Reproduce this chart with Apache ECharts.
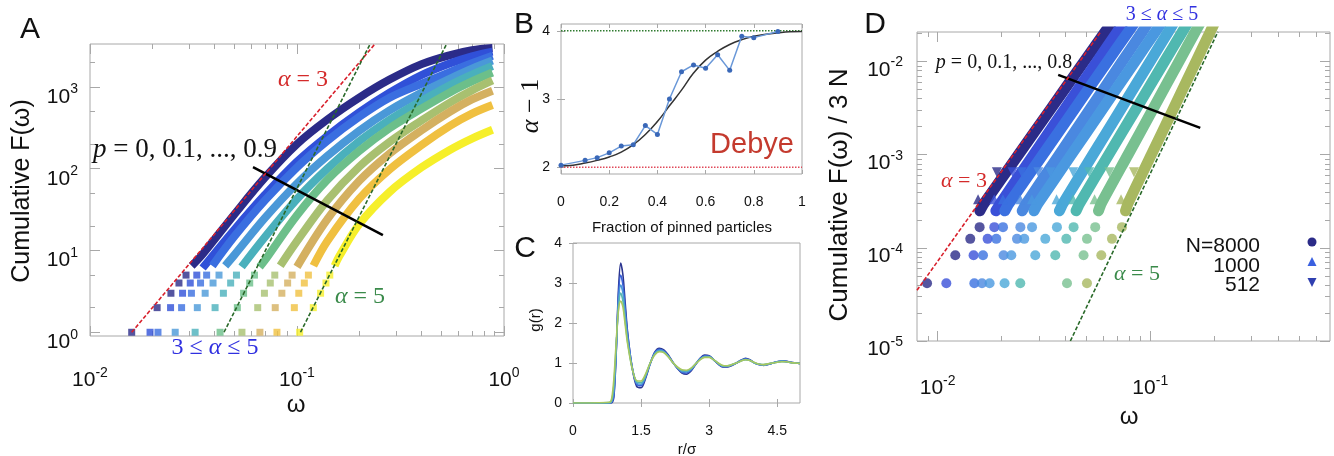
<!DOCTYPE html>
<html><head><meta charset="utf-8">
<script src="https://cdn.jsdelivr.net/npm/echarts@6/dist/echarts.min.js"></script>
<style>html,body{margin:0;padding:0;background:#fff}#c{width:1334px;height:456px}</style>
</head><body><div id="c"></div>
<script>
// ================= DATA =================
// ---- Panel A : cumulative F(w), p = 0 ... 0.9 ----
const A_P = ['0','0.1','0.2','0.3','0.4','0.5','0.6','0.7','0.8','0.9'];
const A_SQ_F = [1, 2, 3, 4, 5];
const A_SQ_W_P00 = [0.0159, 0.0211, 0.0246, 0.0269, 0.0291];
const A_SQ_W_P01 = [0.0195, 0.0245, 0.0280, 0.0305, 0.0328];
const A_SQ_W_P02 = [0.0213, 0.0277, 0.0309, 0.0342, 0.0366];
const A_SQ_W_P03 = [0.0258, 0.0330, 0.0360, 0.0393, 0.0420];
const A_SQ_W_P04 = [0.0322, 0.0402, 0.0441, 0.0478, 0.0510];
const A_SQ_W_P05 = [0.0425, 0.0515, 0.0552, 0.0591, 0.0623];
const A_SQ_W_P06 = [0.0542, 0.0646, 0.0696, 0.0743, 0.0781];
const A_SQ_W_P07 = [0.0662, 0.0785, 0.0845, 0.0901, 0.0947];
const A_SQ_W_P08 = [0.0800, 0.0971, 0.1020, 0.1085, 0.1135];
const A_SQ_W_P09 = [0.1030, 0.1199, 0.1300, 0.1380, 0.1440];
const A_BAND_P00 = [[0.031,6.5],[0.035,9],[0.05,28],[0.07,78],[0.1,200],[0.14,398],[0.2,741],[0.28,1230],[0.4,1900],[0.55,2455],[0.7,2818],[0.88,3000]];
const A_BAND_P01 = [[0.035,6.1],[0.05,18.2],[0.07,48],[0.1,122],[0.14,251],[0.2,490],[0.28,851],[0.4,1400],[0.55,1950],[0.7,2371],[0.88,2700]];
const A_BAND_P02 = [[0.039,6.5],[0.05,15],[0.07,41],[0.1,104],[0.14,219],[0.2,431],[0.28,738],[0.4,1093],[0.55,1528],[0.7,1945],[0.88,2400]];
const A_BAND_P03 = [[0.045,6.5],[0.05,8.9],[0.07,25],[0.1,66],[0.14,143],[0.2,292],[0.28,517],[0.4,851],[0.55,1266],[0.7,1672],[0.88,2100]];
const A_BAND_P04 = [[0.054,6.3],[0.07,14.6],[0.1,42.7],[0.14,100],[0.2,217],[0.28,397],[0.4,678],[0.55,1057],[0.7,1413],[0.88,1800]];
const A_BAND_P05 = [[0.066,6.3],[0.07,7.6],[0.1,27],[0.14,73],[0.2,165],[0.28,313],[0.4,544],[0.55,863],[0.7,1167],[0.88,1500]];
const A_BAND_P06 = [[0.083,6.5],[0.1,13],[0.14,41],[0.2,106],[0.28,212],[0.4,389],[0.55,647],[0.7,908],[0.88,1200]];
const A_BAND_P07 = [[0.1,6.3],[0.14,24],[0.2,71],[0.28,153],[0.4,296],[0.55,501],[0.7,703],[0.88,900]];
const A_BAND_P08 = [[0.12,6.5],[0.14,13],[0.2,43],[0.28,98],[0.4,195],[0.55,336],[0.7,471],[0.88,600]];
const A_BAND_P09 = [[0.152,6.5],[0.16,8.5],[0.2,21],[0.28,52],[0.4,104],[0.55,171],[0.7,234],[0.88,300]];
const A_FIT_A3 = [[0.0159,1],[0.2379,3350]];
const A_FIT_A5_1 = [[0.0444,1],[0.2256,3350]];
const A_FIT_A5_2 = [[0.104,1],[0.528,3350]];
const A_ARROW = [[0.0613,104.7],[0.26,15.4]];
const A_X_TICKS = [0.01, 0.1, 1];
const A_X_TICK_EXP = ['-2','-1','0'];
const A_X_MINOR = [0.02,0.03,0.04,0.05,0.06,0.07,0.08,0.09,0.2,0.3,0.4,0.5,0.6,0.7,0.8,0.9];
const A_Y_TICKS = [1, 10, 100, 1000];
const A_Y_TICK_EXP = ['0','1','2','3'];
const A_Y_MINOR = [2,5,20,50,200,500,2000];

// ---- Panel B : alpha-1 vs fraction of pinned particles ----
const B_P = [0,0.1,0.15,0.2,0.25,0.3,0.35,0.4,0.45,0.5,0.55,0.6,0.65,0.7,0.75,0.8,0.9];
const B_ALPHA = [2.03,2.10,2.14,2.21,2.31,2.33,2.61,2.48,3.00,3.40,3.50,3.45,3.65,3.42,3.92,3.90,3.99];
const B_FIT_P = [0,0.05,0.1,0.15,0.2,0.25,0.3,0.35,0.4,0.45,0.5,0.55,0.6,0.65,0.7,0.75,0.8,0.85,0.9,0.95,1];
const B_FIT_A = [2.02,2.03,2.06,2.10,2.15,2.22,2.33,2.48,2.67,2.90,3.13,3.38,3.57,3.70,3.80,3.87,3.92,3.95,3.97,3.985,3.99];
const B_DEBYE = [[0,2],[1,2]];
const B_TOP = [[0,4],[1,4]];
const B_X_TICKS = [0,0.2,0.4,0.6,0.8,1];
const B_X_LABELS = ['0','0.2','0.4','0.6','0.8','1'];
const B_Y_TICKS = [2,3,4];

// ---- Panel C : g(r) ----
const C_R = [0,0.8,0.85,0.9,0.95,1.0,1.05,1.1,1.15,1.2,1.3,1.4,1.5,1.6,1.7,1.8,1.9,2.0,2.1,2.2,2.3,2.4,2.5,2.6,2.7,2.8,2.9,3.0,3.1,3.2,3.3,3.4,3.5,3.6,3.7,3.8,3.9,4.0,4.1,4.2,4.3,4.4,4.5,4.6,4.7,4.8,4.9,5.0];
const C_G_P00 = [0,0,0,0.15,1.2,2.8,3.5,3.2,2.5,1.8,0.9,0.42,0.38,0.62,0.98,1.27,1.37,1.33,1.2,1.02,0.86,0.75,0.72,0.8,0.96,1.12,1.2,1.18,1.08,0.97,0.9,0.9,0.94,1.0,1.07,1.12,1.08,1.0,0.96,0.94,0.96,1.0,1.03,1.05,1.04,1.02,1.0,0.99];
const C_G_P02 = [0,0,0.01,0.2,1.25,2.65,3.2,2.95,2.35,1.75,0.92,0.47,0.43,0.65,0.98,1.25,1.34,1.3,1.18,1.01,0.87,0.77,0.75,0.82,0.97,1.11,1.18,1.17,1.08,0.98,0.91,0.91,0.95,1.0,1.06,1.1,1.07,1.0,0.96,0.95,0.97,1.0,1.03,1.05,1.04,1.02,1.0,0.99];
const C_G_P04 = [0,0,0.03,0.3,1.3,2.5,2.95,2.75,2.2,1.65,0.9,0.5,0.47,0.67,0.99,1.24,1.32,1.29,1.17,1.01,0.88,0.79,0.78,0.84,0.97,1.1,1.16,1.16,1.08,0.99,0.92,0.92,0.95,1.0,1.06,1.09,1.06,1.0,0.97,0.95,0.97,1.0,1.03,1.04,1.03,1.01,1.0,0.99];
const C_G_P06 = [0,0.01,0.06,0.45,1.4,2.35,2.75,2.55,2.05,1.55,0.88,0.53,0.51,0.7,1.0,1.22,1.3,1.27,1.16,1.01,0.89,0.81,0.8,0.86,0.98,1.09,1.15,1.15,1.08,0.99,0.93,0.93,0.96,1.0,1.05,1.08,1.06,1.0,0.97,0.96,0.98,1.0,1.02,1.04,1.03,1.01,1.0,0.99];
const C_G_P08 = [0,0.02,0.1,0.6,1.5,2.3,2.55,2.4,1.95,1.5,0.88,0.56,0.55,0.73,1.0,1.2,1.28,1.26,1.15,1.01,0.9,0.83,0.82,0.87,0.98,1.08,1.14,1.14,1.08,1.0,0.94,0.93,0.96,1.0,1.05,1.08,1.06,1.01,0.97,0.96,0.98,1.0,1.02,1.03,1.03,1.01,1.0,0.99];
const C_X_TICKS = [0,1.5,3,4.5];
const C_Y_TICKS = [0,1,2,3,4];

// ---- Panel D : cumulative F(w)/3N, p = 0 ... 0.8 ----
const D_ROW_F = [4.17e-5, 8.33e-5, 1.25e-4, 1.67e-4];
const D_CIRC_W_P00 = [0.00892, 0.01211, 0.01424, 0.01576];
const D_CIRC_W_P01 = [0.01099, 0.01476, 0.01718, 0.01848];
const D_CIRC_W_P02 = [0.01488, 0.01635, 0.01888, 0.0203];
const D_CIRC_W_P03 = [0.01617, 0.02043, 0.02362, 0.0245];
const D_CIRC_W_P04 = [0.01756, 0.02221, 0.02556, 0.0278];
const D_CIRC_W_P05 = [0.02065, 0.02879, 0.03209, 0.0364];
const D_CIRC_W_P06 = [0.02448, 0.03576, 0.04029, 0.0436];
const D_CIRC_W_P07 = [0.04059, 0.04857, 0.05039, 0.0551];
const D_CIRC_W_P08 = [0.05039, 0.05884, 0.06605, 0.0736];
const D_BAND_F = [2.5e-4, 3e-4, 1e-3, 3e-3, 1e-2, 0.0209, 0.03];
const D_BAND_W_P00 = [0.0158, 0.01654, 0.02398, 0.03366, 0.04881, 0.0614, 0.0686];
const D_BAND_W_P01 = [0.0188, 0.01972, 0.02825, 0.0392, 0.05618, 0.0700, 0.0776];
const D_BAND_W_P02 = [0.0207, 0.02166, 0.03123, 0.04362, 0.0629, 0.0788, 0.0878];
const D_BAND_W_P03 = [0.0250, 0.02612, 0.0373, 0.05161, 0.0737, 0.0917, 0.1017];
const D_BAND_W_P04 = [0.0284, 0.02965, 0.04252, 0.05906, 0.08474, 0.1056, 0.1177];
const D_BAND_W_P05 = [0.0374, 0.03886, 0.0537, 0.07217, 0.09975, 0.1215, 0.1338];
const D_BAND_W_P06 = [0.0448, 0.04652, 0.06373, 0.085, 0.1165, 0.1414, 0.1554];
const D_BAND_W_P07 = [0.0571, 0.05884, 0.07855, 0.1022, 0.1364, 0.1627, 0.1776];
const D_BAND_W_P08 = [0.0765, 0.0786, 0.1012, 0.1274, 0.164, 0.1914, 0.2062];
const D_UP_F = 3.33e-4;
const D_UP_W = [0.0155, 0.01845, 0.02028, 0.02443, 0.02775, 0.03625, 0.04336, 0.05472, 0.07286];
const D_DN_F = 6.5e-4;
const D_DN_W = [0.0190, 0.02253, 0.02485, 0.02978, 0.03389, 0.04339, 0.05165, 0.06423, 0.08383];
const D_FIT_A3 = [[0.008,3.5e-5],[0.0585,0.0209]];
const D_FIT_A5 = [[0.0421,1e-5],[0.208,0.0209]];
const D_ARROW = [[0.0369,7.2e-3],[0.1718,1.94e-3]];
const D_X_TICKS = [0.01, 0.1];
const D_X_TICK_EXP = ['-2','-1'];
const D_X_MINOR = [0.009,0.02,0.03,0.04,0.05,0.06,0.07,0.08,0.09,0.2,0.3,0.4,0.5,0.6];
const D_Y_TICKS = [1e-5,1e-4,1e-3,1e-2];
const D_Y_TICK_EXP = ['-5','-4','-3','-2'];
const D_Y_MINOR = [2e-5,3e-5,4e-5,5e-5,6e-5,7e-5,8e-5,9e-5,2e-4,3e-4,4e-4,5e-4,6e-4,7e-4,8e-4,9e-4,2e-3,3e-3,4e-3,5e-3,6e-3,7e-3,8e-3,9e-3,0.02];
const D_LEGEND = ['N=8000','1000','512'];

// ================= STYLE =================
const SANS = '"Liberation Sans", Arial, sans-serif';
const SERIF = '"Liberation Serif", "DejaVu Serif", serif';
const FRAME = '#a8a8a8';
const A_COLORS = ['#2b2b88','#3050d8','#3a6ee0','#4a98d8','#4ab0bc','#6cbf8a','#a8c070','#d4b060','#f0c040','#f6ef2a'];
const D_COLORS = ['#2b2b88','#3a50d8','#3a70e0','#4a88e0','#4a98e0','#4aa8d8','#50b8b0','#78c090','#a8b860'];
const C_COLORS = ['#2b3590','#3a62d8','#4a98d8','#58b8b0','#a8c860'];

const A_SQ = [A_SQ_W_P00,A_SQ_W_P01,A_SQ_W_P02,A_SQ_W_P03,A_SQ_W_P04,A_SQ_W_P05,A_SQ_W_P06,A_SQ_W_P07,A_SQ_W_P08,A_SQ_W_P09];
const A_BANDS = [A_BAND_P00,A_BAND_P01,A_BAND_P02,A_BAND_P03,A_BAND_P04,A_BAND_P05,A_BAND_P06,A_BAND_P07,A_BAND_P08,A_BAND_P09];
const D_CIRC = [D_CIRC_W_P00,D_CIRC_W_P01,D_CIRC_W_P02,D_CIRC_W_P03,D_CIRC_W_P04,D_CIRC_W_P05,D_CIRC_W_P06,D_CIRC_W_P07,D_CIRC_W_P08];
const D_BANDS = [D_BAND_W_P00,D_BAND_W_P01,D_BAND_W_P02,D_BAND_W_P03,D_BAND_W_P04,D_BAND_W_P05,D_BAND_W_P06,D_BAND_W_P07,D_BAND_W_P08];
const C_G = [C_G_P00,C_G_P02,C_G_P04,C_G_P06,C_G_P08];

function supRich(big, small) {
  return {
    b: {fontSize: big, fontFamily: SANS, color: '#111', lineHeight: big + 4, verticalAlign: 'bottom'},
    s: {fontSize: small, fontFamily: SANS, color: '#111', lineHeight: small, verticalAlign: 'top'}
  };
}
function supFmt(ticks, exps) {
  return function (v) {
    let best = 0, bd = Infinity;
    ticks.forEach((t, i) => { const d = Math.abs(Math.log(v) - Math.log(t)); if (d < bd) { bd = d; best = i; } });
    return '{b|10}{s|' + exps[best] + '}';
  };
}
function tickAxis(grid, type, pos, min, max, ticks, len, label) {
  const ax = {
    gridIndex: grid, type: type, position: pos, min: min, max: max,
    axisLine: {show: false}, splitLine: {show: false},
    axisTick: {show: true, inside: true, length: len, customValues: ticks, lineStyle: {color: FRAME, width: 1}},
    axisLabel: {show: false}
  };
  if (type === 'log') ax.logBase = 10;
  if (label) ax.axisLabel = Object.assign({show: true, customValues: ticks}, label);
  return ax;
}

// axes
const xAxis = [], yAxis = [];
// Panel A (grid 0)
xAxis.push(tickAxis(0,'log','bottom',0.01,1,A_X_TICKS,10,{margin: 30, formatter: supFmt(A_X_TICKS,A_X_TICK_EXP), rich: supRich(21,14)}));
xAxis.push(tickAxis(0,'log','bottom',0.01,1,A_X_MINOR,5));
xAxis.push(tickAxis(0,'log','top',0.01,1,A_X_TICKS,10));
xAxis.push(tickAxis(0,'log','top',0.01,1,A_X_MINOR,5));
yAxis.push(tickAxis(0,'log','left',0.9,3350,A_Y_TICKS,10,{margin: 12, padding: [16, 0, 0, 0], formatter: supFmt(A_Y_TICKS,A_Y_TICK_EXP), rich: supRich(21,14)}));
yAxis.push(tickAxis(0,'log','left',0.9,3350,A_Y_MINOR,5));
yAxis.push(tickAxis(0,'log','right',0.9,3350,A_Y_TICKS,10));
yAxis.push(tickAxis(0,'log','right',0.9,3350,A_Y_MINOR,5));
// Panel B (grid 1)
xAxis.push(tickAxis(1,'value','bottom',0,1,B_X_TICKS,4,{margin: 21, fontSize: 14, fontFamily: SANS, color: '#111', formatter: v => B_X_LABELS[B_X_TICKS.indexOf(v)]}));
xAxis.push(tickAxis(1,'value','top',0,1,B_X_TICKS,4));
yAxis.push(tickAxis(1,'value','left',1.9,4.1,B_Y_TICKS,4,{margin: 11, fontSize: 14, fontFamily: SANS, color: '#111'}));
yAxis.push(tickAxis(1,'value','right',1.9,4.1,B_Y_TICKS,4));
// Panel C (grid 2)
xAxis.push(tickAxis(2,'value','bottom',0,5,C_X_TICKS,4,{margin: 21, fontSize: 14, fontFamily: SANS, color: '#111'}));
xAxis.push(tickAxis(2,'value','top',0,5,C_X_TICKS,4));
yAxis.push(tickAxis(2,'value','left',0,4,C_Y_TICKS,4,{margin: 11, fontSize: 14, fontFamily: SANS, color: '#111'}));
yAxis.push(tickAxis(2,'value','right',0,4,C_Y_TICKS,4));
// Panel D (grid 3)
xAxis.push(tickAxis(3,'log','bottom',0.008,0.7,D_X_TICKS,10,{margin: 33, formatter: supFmt(D_X_TICKS,D_X_TICK_EXP), rich: supRich(21,14)}));
xAxis.push(tickAxis(3,'log','bottom',0.008,0.7,D_X_MINOR,5));
xAxis.push(tickAxis(3,'log','top',0.008,0.7,D_X_TICKS,10));
xAxis.push(tickAxis(3,'log','top',0.008,0.7,D_X_MINOR,5));
yAxis.push(tickAxis(3,'log','left',1e-5,0.0208,D_Y_TICKS,10,{margin: 14, padding: [13, 0, 0, 0], formatter: supFmt(D_Y_TICKS,D_Y_TICK_EXP), rich: supRich(21,14)}));
yAxis.push(tickAxis(3,'log','left',1e-5,0.0208,D_Y_MINOR,5));
yAxis.push(tickAxis(3,'log','right',1e-5,0.0208,D_Y_TICKS,10));
yAxis.push(tickAxis(3,'log','right',1e-5,0.0208,D_Y_MINOR,5));

const series = [];
// ---- A ----
A_P.forEach((p, i) => {
  series.push({type: 'line', name: 'A band p=' + p, xAxisIndex: 0, yAxisIndex: 0, data: A_BANDS[i],
    showSymbol: false, smooth: 0.35, lineStyle: {color: A_COLORS[i], width: 8, cap: 'butt', join: 'round'}, z: 2});
  series.push({type: 'scatter', name: 'A modes p=' + p, xAxisIndex: 0, yAxisIndex: 0,
    data: A_SQ[i].map((w, k) => [w, A_SQ_F[k]]), symbol: 'rect', symbolSize: 7,
    itemStyle: {color: A_COLORS[i]}, z: 2});
});
function dashed(name, xi, yi, data, color, extra) {
  return Object.assign({type: 'line', name: name, xAxisIndex: xi, yAxisIndex: yi, data: data, showSymbol: false,
    lineStyle: {color: color, width: 1.6, type: [4, 2]}, z: 5}, extra || {});
}
series.push(dashed('A alpha3', 0, 0, A_FIT_A3, '#d8202c', {
  markLine: {silent: true, symbol: ['none', 'arrow'], symbolSize: [0, 14], label: {show: false},
    lineStyle: {color: '#000', width: 2.5, type: 'solid'},
    data: [[{coord: A_ARROW[0]}, {coord: A_ARROW[1]}]]}
}));
series.push(dashed('A alpha5 a', 0, 0, A_FIT_A5_1, '#2a6a2a'));
series.push(dashed('A alpha5 b', 0, 0, A_FIT_A5_2, '#2a6a2a'));

// ---- B ----
series.push({type: 'line', name: 'B debye', xAxisIndex: 4, yAxisIndex: 4, data: B_DEBYE, showSymbol: false,
  lineStyle: {color: '#e04a5a', width: 1.5, type: 'dotted'}});
series.push({type: 'line', name: 'B top', xAxisIndex: 4, yAxisIndex: 4, data: B_TOP, showSymbol: false,
  lineStyle: {color: '#2f7a2f', width: 1.5, type: 'dotted'}});
series.push({type: 'line', name: 'B fit', xAxisIndex: 4, yAxisIndex: 4, data: B_FIT_P.map((p, i) => [p, B_FIT_A[i]]),
  showSymbol: false, smooth: true, lineStyle: {color: '#333', width: 1.5}});
series.push({type: 'line', name: 'B data', xAxisIndex: 4, yAxisIndex: 4, data: B_P.map((p, i) => [p, B_ALPHA[i]]),
  symbol: 'circle', symbolSize: 5, showSymbol: true, itemStyle: {color: '#3a68b8'},
  lineStyle: {color: '#6a98d8', width: 1.5}, z: 4});

// ---- C ----
C_G.forEach((g, i) => {
  series.push({type: 'line', name: 'C g' + i, xAxisIndex: 6, yAxisIndex: 6, data: C_R.map((r, k) => [r, g[k]]),
    showSymbol: false, smooth: 0.3, lineStyle: {color: C_COLORS[i], width: 1.6}});
});

// ---- D ----
D_COLORS.forEach((c, i) => {
  series.push({type: 'line', name: 'D band ' + i, xAxisIndex: 8, yAxisIndex: 8,
    data: D_BANDS[i].map((w, k) => [w, D_BAND_F[k]]), showSymbol: false, smooth: 0.2,
    lineStyle: {color: c, width: 11, cap: 'round', join: 'round'}, z: 2});
  series.push({type: 'scatter', name: 'D N8000 ' + i, xAxisIndex: 8, yAxisIndex: 8,
    data: D_CIRC[i].map((w, k) => [w, D_ROW_F[k]]), symbol: 'circle', symbolSize: 10,
    itemStyle: {color: c}, z: 2});
  series.push({type: 'scatter', name: 'D N1000 ' + i, xAxisIndex: 8, yAxisIndex: 8,
    data: [[D_UP_W[i], D_UP_F]], symbol: 'triangle', symbolSize: 10, itemStyle: {color: c}, z: 3});
  series.push({type: 'scatter', name: 'D N512 ' + i, xAxisIndex: 8, yAxisIndex: 8,
    data: [[D_DN_W[i], D_DN_F]], symbol: 'triangle', symbolRotate: 180, symbolSize: 10, itemStyle: {color: c}, z: 3});
});
series.push(dashed('D alpha3', 8, 8, D_FIT_A3, '#d8202c', {
  markLine: {silent: true, symbol: ['none', 'arrow'], symbolSize: [0, 14], label: {show: false},
    lineStyle: {color: '#000', width: 2.5, type: 'solid'},
    data: [[{coord: D_ARROW[0]}, {coord: D_ARROW[1]}]]}
}));
series.push(dashed('D alpha5', 8, 8, D_FIT_A5, '#2a6a2a'));

// ---- text ----
function T(x, y, text, o) {
  o = o || {};
  const st = {text: text, fill: o.color || '#111', fontSize: o.size || 20, fontFamily: o.family || SANS,
    fontStyle: o.italic ? 'italic' : 'normal', textAlign: o.align || 'center', textVerticalAlign: 'middle'};
  if (o.rich) st.rich = o.rich;
  return {type: 'text', x: x, y: y, rotation: o.rot || 0, silent: true, z: 100, style: st};
}
function mathRich(size, color) {
  return {i: {fontFamily: SERIF, fontStyle: 'italic', fontSize: size, fill: color},
          r: {fontFamily: SERIF, fontSize: size, fill: color}};
}
const graphic = [
  T(30, 30, 'A', {size: 30}), T(524, 25, 'B', {size: 30}), T(525, 249, 'C', {size: 30}), T(875, 25, 'D', {size: 30}),
  T(22, 191, 'Cumulative F(ω)', {size: 25, rot: Math.PI / 2}),
  T(296, 405, 'ω', {size: 24}),
  T(93, 150, '{i|p}{r| = 0, 0.1, ..., 0.9}', {align: 'left', color: '#111', rich: mathRich(27, '#111')}),
  T(303, 80, '{i|α}{r| = 3}', {color: '#d42a2a', rich: mathRich(24, '#d42a2a')}),
  T(360, 297, '{i|α}{r| = 5}', {color: '#3a8a4a', rich: mathRich(24, '#3a8a4a')}),
  T(215, 348, '{r|3 ≤ }{i|α}{r| ≤ 5}', {color: '#3030e0', rich: mathRich(24, '#3030e0')}),
  T(531, 106, '{i|α}{r| − 1}', {rot: Math.PI / 2, rich: mathRich(26, '#111')}),
  T(752, 145, 'Debye', {size: 29, color: '#c43a2e'}),
  T(682, 228, 'Fraction of pinned particles', {size: 15}),
  T(536, 320, 'g(r)', {size: 15, rot: Math.PI / 2}),
  T(687, 450, 'r/σ', {size: 15}),
  T(840, 195, 'Cumulative F(ω) / 3 N', {size: 26, rot: Math.PI / 2}),
  T(1129, 417, 'ω', {size: 24}),
  T(1004, 63, '{i|p}{r| = 0, 0.1, ..., 0.8}', {rich: mathRich(20, '#111')}),
  T(964, 181, '{i|α}{r| = 3}', {color: '#d42a2a', rich: mathRich(22, '#d42a2a')}),
  T(1137, 274, '{i|α}{r| = 5}', {color: '#3a8a4a', rich: mathRich(22, '#3a8a4a')}),
  T(1162, 15, '{r|3 ≤ }{i|α}{r| ≤ 5}', {color: '#3030e0', rich: mathRich(20, '#3030e0')}),
  T(1260, 246, D_LEGEND[0], {size: 21, align: 'right'}),
  T(1260, 266, D_LEGEND[1], {size: 21, align: 'right'}),
  T(1260, 285, D_LEGEND[2], {size: 21, align: 'right'}),
  {type: 'circle', silent: true, z: 100, shape: {cx: 1312, cy: 242, r: 4.5}, style: {fill: '#2b2b88'}},
  {type: 'polygon', silent: true, z: 100, shape: {points: [[1312, 257], [1307.5, 266], [1316.5, 266]]}, style: {fill: '#3a60e0'}},
  {type: 'polygon', silent: true, z: 100, shape: {points: [[1307.5, 278], [1316.5, 278], [1312, 287]]}, style: {fill: '#2f3fb0'}}
];

const gridBase = {show: true, borderColor: FRAME, borderWidth: 1, backgroundColor: 'transparent', containLabel: false, outerBoundsMode: 'none'};
const option = {
  animation: false,
  backgroundColor: '#fff',
  grid: [
    Object.assign({left: 90, top: 44, width: 414, height: 292}, gridBase),
    Object.assign({left: 561, top: 24, width: 241, height: 150}, gridBase),
    Object.assign({left: 573, top: 243, width: 227, height: 160}, gridBase),
    Object.assign({left: 917, top: 32, width: 413, height: 309}, gridBase)
  ],
  xAxis: xAxis, yAxis: yAxis, series: series, graphic: graphic
};
const chart = echarts.init(document.getElementById('c'), null, {renderer: 'canvas'});
chart.setOption(option);
</script></body></html>
